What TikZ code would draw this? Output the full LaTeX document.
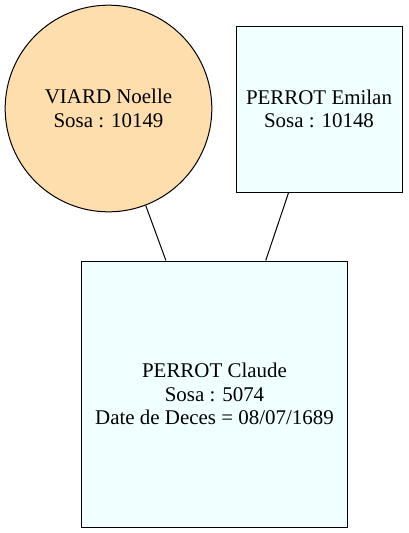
\documentclass[tikz,border=0pt]{standalone}
\usepackage{fontspec}
\setmainfont{Liberation Serif}
\usepackage{xcolor}
\usepackage{tikz}
\definecolor{nwhite}{HTML}{FFDEAD}
\definecolor{azur}{HTML}{F0FFFF}

\begin{document}
\begin{tikzpicture}[x=0.75pt,y=-0.75pt,line width=0.75pt,
    person/.style={draw,fill=azur,rectangle,align=center,inner sep=0pt,
      font=\fontsize{15.7}{17.8}\selectfont},
    femme/.style={person,circle,fill=nwhite}]
  \useasboundingbox (0,0) rectangle (408,533);
  \node[femme,minimum size=155pt] (viard) at (108.5,108.5) {VIARD Noelle\\Sosa : 10149};
  \node[person,minimum width=124.5pt,minimum height=124.5pt] (emilan) at (319,109)
    {PERROT Emilan\\Sosa : 10148};
  \node[person,minimum width=200pt,minimum height=199.5pt] (claude) at (214.5,394)
    {PERROT Claude\\Sosa : 5074\\Date de Deces = 08/07/1689};
  \draw (viard.-69.5) -- (claude.110.4);
  \draw (emilan.250.1) -- (claude.69.6);
\end{tikzpicture}
\end{document}
